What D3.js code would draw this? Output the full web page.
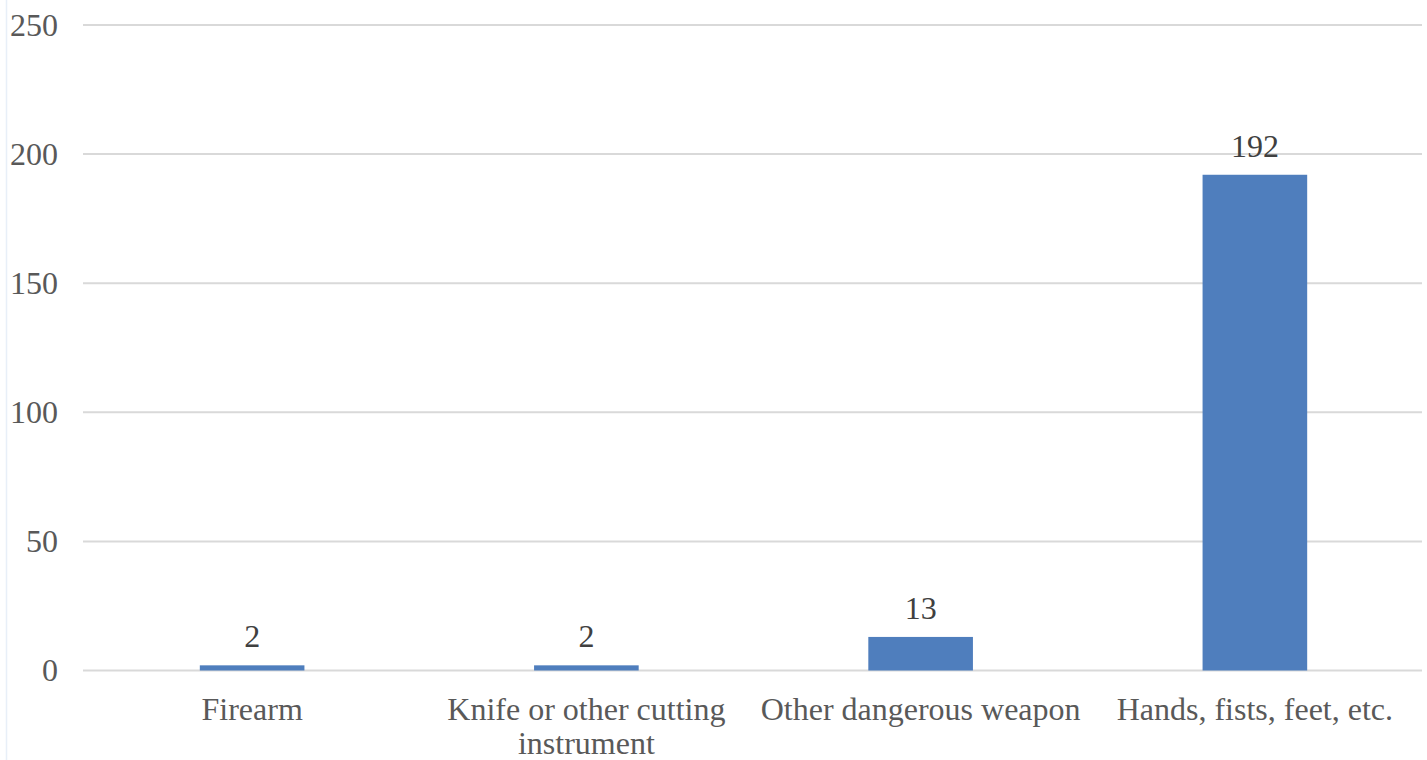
<!DOCTYPE html>
<html lang="en">
<head>
<meta charset="utf-8">
<title>Weapon type</title>
<style>
  html, body { margin: 0; padding: 0; background: #fff; }
  svg { display: block; }
</style>
<script src="https://d3js.org/d3.v7.min.js"></script>
</head>
<body>
<svg width="1427" height="760"></svg>
<script>
  // data
  var categories = ["Firearm", "Knife or other cutting instrument", "Other dangerous weapon", "Hands, fists, feet, etc."];
  var labelLines = [["Firearm"], ["Knife or other cutting", "instrument"], ["Other dangerous weapon"], ["Hands, fists, feet, etc."]];
  var values = [2, 2, 13, 192];
  var yTicks = [0, 50, 100, 150, 200, 250];

  var svg = d3.select("svg"),
      plotLeft = 85,
      plotRight = 1422,
      plotTop = 25,
      plotBottom = 670.5,
      font = "'Liberation Serif', 'Times New Roman', serif";

  // faint frame line on the left edge
  svg.append("line")
     .attr("x1", 6.5).attr("x2", 6.5)
     .attr("y1", 0).attr("y2", 760)
     .attr("stroke", "#e8eff8")
     .attr("stroke-width", 1.5);

  var xScale = d3.scaleBand().domain(categories).range([plotLeft, plotRight]).padding(0),
      yScale = d3.scaleLinear().domain([0, 250]).range([plotBottom, plotTop]);

  // gridlines
  svg.append("g")
     .selectAll("line")
     .data(yTicks)
     .enter().append("line")
     .attr("x1", 83)
     .attr("x2", plotRight)
     .attr("y1", function(d) { return yScale(d); })
     .attr("y2", function(d) { return yScale(d); })
     .attr("stroke", "#d9d9d9")
     .attr("stroke-width", 2);

  // Y labels
  var yAxis = svg.append("g")
     .attr("transform", "translate(58,0)")
     .call(d3.axisLeft(yScale).tickValues(yTicks).tickSize(0).tickPadding(0));
  yAxis.attr("font-family", null);
  yAxis.select(".domain").remove();
  yAxis.selectAll("text")
     .style("font-family", font)
     .attr("font-size", "32px")
     .attr("fill", "#595959")
     .attr("dy", "0.32em");

  // bars
  var barW = xScale.bandwidth() * 0.313;
  svg.selectAll(".bar")
     .data(values)
     .enter().append("rect")
     .attr("class", "bar")
     .attr("x", function(d, i) { return xScale(categories[i]) + xScale.bandwidth() / 2 - barW / 2; })
     .attr("y", function(d) { return yScale(d); })
     .attr("width", barW)
     .attr("height", function(d) { return plotBottom - yScale(d); })
     .attr("fill", "#4f7ebd");

  // value labels
  svg.selectAll(".val")
     .data(values)
     .enter().append("text")
     .attr("class", "val")
     .attr("x", function(d, i) { return xScale(categories[i]) + xScale.bandwidth() / 2; })
     .attr("y", function(d) { return yScale(d) - 18; })
     .attr("text-anchor", "middle")
     .style("font-family", font)
     .attr("font-size", "32px")
     .attr("fill", "#404040")
     .text(function(d) { return d; });

  // category labels
  var cat = svg.selectAll(".cat")
     .data(categories)
     .enter().append("text")
     .attr("class", "cat")
     .attr("x", function(d) { return xScale(d) + xScale.bandwidth() / 2; })
     .attr("y", 720)
     .attr("text-anchor", "middle")
     .style("font-family", font)
     .attr("font-size", "32px")
     .attr("fill", "#595959");
  cat.each(function(d, i) {
    var t = d3.select(this);
    labelLines[i].forEach(function(line, j) {
      t.append("tspan")
       .attr("x", xScale(d) + xScale.bandwidth() / 2)
       .attr("dy", j === 0 ? 0 : 34)
       .text(line);
    });
  });
</script>
</body>
</html>
